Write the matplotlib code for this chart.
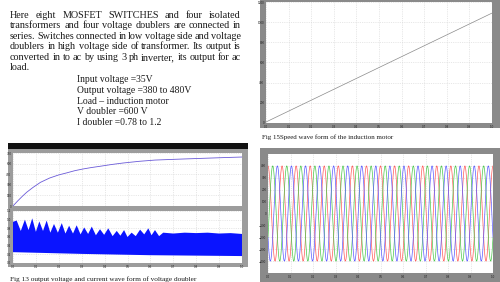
import matplotlib

matplotlib.use("Agg")
import matplotlib.pyplot as plt
import numpy as np
from matplotlib.patches import Rectangle

W, H = 500, 282
SERIF = "Liberation Serif"

# ---- text of the page ----
para_lines = [
    "Here eight MOSFET SWITCHES and four isolated",
    "transformers and four voltage doublers are connected in",
    "series. Switches connected in low voltage side and voltage",
    "doublers in high voltage side of transformer. Its output is",
    "converted in to ac by using 3 ph inverter, its output for ac",
    "load.",
]
spec_lines = [
    "Input voltage =35V",
    "Output voltage =380 to 480V",
    "Load \u2013 induction motor",
    "V doubler =600 V",
    "I doubler =0.78 to 1.2",
]
caption_13 = "Fig 13 output voltage and current wave form of voltage doubler"
caption_15 = "Fig 15Speed wave form of the induction motor"

# ---- Fig 15: motor speed (straight ramp) ----
speed_t = [0.0, 1.0]
speed_rpm = [10, 1090]

# ---- Fig 13 upper: doubler output voltage ----
volt_t = [0.0, 0.01, 0.02, 0.04, 0.06, 0.087, 0.12, 0.16, 0.20, 0.236, 0.27,
          0.306, 0.34, 0.38, 0.43, 0.48, 0.55, 0.62, 0.70, 0.76, 0.85, 0.92, 1.0]
volt_v = [0, 35, 70, 135, 195, 262, 335, 396, 440, 470, 500,
          524, 543, 562, 587, 608, 632, 650, 660, 667, 677, 685, 693]

# ---- Fig 13 lower: doubler current envelope ----
cur_hi_t = [0.0, 0.016, 0.034, 0.052, 0.068, 0.084, 0.10, 0.115, 0.131, 0.147,
            0.163, 0.179, 0.196, 0.213, 0.229, 0.245, 0.262, 0.278, 0.295,
            0.311, 0.328, 0.344, 0.362, 0.380, 0.398, 0.416, 0.435, 0.453,
            0.469, 0.485, 0.50, 0.518, 0.536, 0.555, 0.573, 0.591, 0.605,
            0.620, 0.638, 0.656, 0.70, 0.75, 0.80, 0.85, 0.90, 0.95, 1.0]
cur_hi = [0.95, 0.98, 0.74, 1.00, 0.76, 1.03, 0.72, 0.96, 0.74, 0.98,
          0.70, 0.90, 0.70, 0.92, 0.68, 0.86, 0.68, 0.87, 0.66,
          0.82, 0.67, 0.84, 0.64, 0.78, 0.65, 0.80, 0.62, 0.74,
          0.63, 0.76, 0.60, 0.70, 0.62, 0.77, 0.66, 0.80, 0.64,
          0.76, 0.62, 0.70, 0.68, 0.70, 0.69, 0.70, 0.68, 0.69, 0.67]
cur_lo_t = [0.0, 0.3, 0.6, 1.0]
cur_lo = [0.25, 0.21, 0.18, 0.16]

# ---- Fig 14: three phase inverter output ----
phase_names = ["a", "b", "c"]
phase_colors = ["#ff5a5a", "#4cc84c", "#5a5aff"]
phase_peak = 400
phase_cycles = 16


def box(x0, y0, x1, y1):
    return [x0 / W, 1 - y1 / H, (x1 - x0) / W, (y1 - y0) / H]


def frame(fig, x0, y0, x1, y1, color):
    fig.patches.append(Rectangle((x0 / W, 1 - y1 / H), (x1 - x0) / W, (y1 - y0) / H,
                                 transform=fig.transFigure, facecolor=color,
                                 edgecolor="none", zorder=-5))


def scope_axes(fig, rect, xlim, ylim, xticks, yticks, xlabels=True):
    ax = fig.add_axes(box(*rect))
    ax.set_xlim(xlim)
    ax.set_ylim(ylim)
    ax.set_xticks(xticks)
    ax.set_yticks(yticks)
    ax.set_axisbelow(True)
    ax.grid(True, color="#d4d4d4", lw=0.4, ls=(0, (2, 2)))
    ax.tick_params(labelsize=2, length=0, pad=1.2, colors="#222222")
    if not xlabels:
        ax.set_xticklabels([])
    for s in ax.spines.values():
        s.set_visible(False)
    return ax


fig = plt.figure(figsize=(W / 100, H / 100), dpi=100)
fig.patch.set_facecolor("white")
renderer = fig.canvas.get_renderer()

# paragraph, justified between x=10 and x=241
fs = 7.3
x0, x1 = 10, 241
y = 15
for i, line in enumerate(para_lines):
    words = line.split()
    texts = [fig.text(0, 1 - y / H, w, fontsize=fs, family=SERIF, va="center",
                      color="#1a1a1a") for w in words]
    widths = [t.get_window_extent(renderer).width for t in texts]
    if i < len(para_lines) - 1 and len(words) > 1:
        gap = (x1 - x0 - sum(widths)) / (len(words) - 1)
    else:
        gap = fs * 0.35
    x = x0
    for t, w in zip(texts, widths):
        t.set_x(x / W)
        x += w + gap
    y += 10.6

y = 80
for line in spec_lines:
    fig.text(77 / W, 1 - y / H, line, fontsize=6.9, family=SERIF, va="center",
             color="#1a1a1a")
    y += 10.5

# Fig 15 speed
frame(fig, 260, 0, 500, 128, "#8a8a8a")
ax = scope_axes(fig, (266, 2, 492, 123), (0, 1), (0, 1200),
                np.arange(0, 1.01, 0.1), np.arange(0, 1201, 200))
ax.plot(speed_t, speed_rpm, color="#8a8a8a", lw=0.5)
fig.text(262 / W, 1 - 137 / H, caption_15, fontsize=5, family=SERIF, va="center",
         color="#1a1a1a")

# Fig 14 three phase
frame(fig, 260, 148, 500, 282, "#8a8a8a")
ax = scope_axes(fig, (268, 154, 493, 273), (0, 1), (-500, 500),
                np.arange(0, 1.01, 0.1), np.arange(-400, 401, 100))
t = np.linspace(0, 1, 4000)
for k, (name, col) in enumerate(zip(phase_names, phase_colors)):
    ax.plot(t, phase_peak * np.cos(2 * np.pi * phase_cycles * t - k * 2 * np.pi / 3),
            color=col, lw=0.5, label=name)

# Fig 13 voltage doubler
frame(fig, 8, 143, 248, 267, "#9c9c9c")
frame(fig, 8, 143, 248, 149, "#111111")
ax = scope_axes(fig, (13, 153, 242, 206), (0, 1), (0, 750),
                np.arange(0, 1.01, 0.1), np.arange(0, 751, 150), xlabels=False)
ax.plot(volt_t, volt_v, color="#6a5ad8", lw=0.6)

ax = scope_axes(fig, (13, 211, 242, 263), (0, 1), (0, 1.2),
                np.arange(0, 1.01, 0.1), np.arange(0, 1.21, 0.2))
ax.fill(np.r_[cur_hi_t, cur_lo_t[::-1]], np.r_[cur_hi, cur_lo[::-1]],
        color="#0a14ff", lw=0)
fig.text(10 / W, 1 - 279 / H, caption_13, fontsize=5.2, family=SERIF, va="center",
         color="#1a1a1a")

fig.savefig("out.png", dpi=100)
